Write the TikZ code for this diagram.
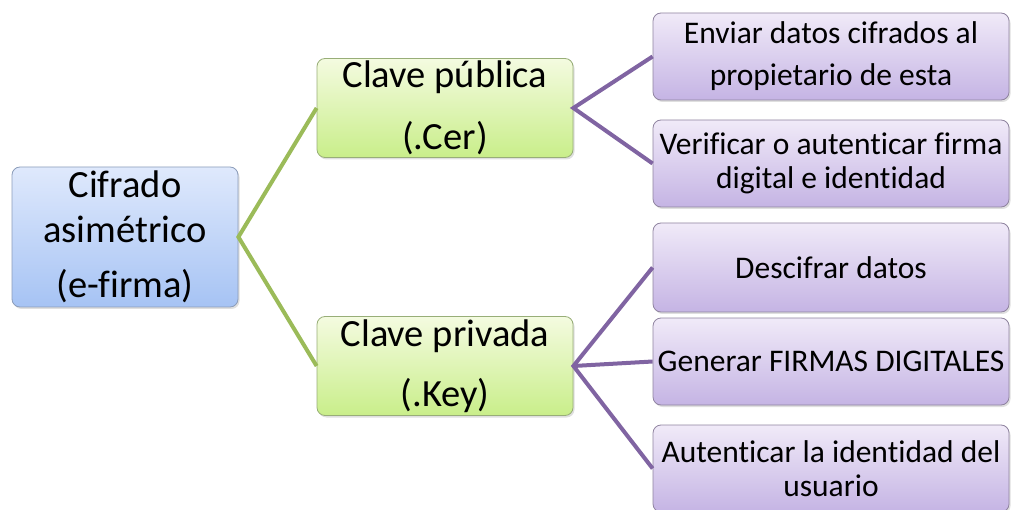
\documentclass[tikz,border=0pt]{standalone}
\usepackage{fontspec}
\setmainfont{Carlito}[RawFeature={-liga;-dlig;-clig}]
\usetikzlibrary{shadows}
\definecolor{rootTop}{HTML}{DFE9FC}
\definecolor{rootBot}{HTML}{A6C3F4}
\definecolor{rootDraw}{HTML}{8C9DBA}
\definecolor{grTop}{HTML}{F4FBE0}
\definecolor{grBot}{HTML}{C9EE8A}
\definecolor{grDraw}{HTML}{98AE78}
\definecolor{puTop}{HTML}{F0EAF8}
\definecolor{puBot}{HTML}{C5B4E4}
\definecolor{puDraw}{HTML}{8F839F}
\definecolor{grLine}{HTML}{9BBB59}
\definecolor{puLine}{HTML}{8064A2}
\begin{document}
\begin{tikzpicture}[x=1pt,y=-1pt,
  box/.style={rectangle, rounded corners=8pt, line width=0.8pt, inner sep=0pt, align=center,
    drop shadow={shadow xshift=1.5pt, shadow yshift=-2pt, opacity=0.25}},
  rootbox/.style={box, draw=rootDraw, top color=rootTop, bottom color=rootBot,
    minimum width=226pt, minimum height=140pt, font=\fontsize{38.5}{45}\selectfont},
  keybox/.style={box, draw=grDraw, top color=grTop, bottom color=grBot,
    minimum width=256pt, minimum height=99pt, font=\fontsize{38.5}{46}\selectfont},
  leafbox/.style={box, draw=puDraw, top color=puTop, bottom color=puBot,
    minimum width=356pt, minimum height=87pt, font=\fontsize{31.5}{34}\selectfont},
  grconn/.style={draw=grLine, line width=4pt},
  puconn/.style={draw=puLine, line width=4pt}]
\useasboundingbox (0,0) rectangle (1011,510);

\node[rootbox] (root) at (125,237) {Cifrado\\asimétrico\\[10pt](e-firma)};
\node[keybox] (pub) at (445,108) {Clave pública\\[16pt](.Cer)};
\node[keybox] (priv) at (445,366) {Clave privada\\[14pt](.Key)};

\node[leafbox] (l1) at (831,56.5) {Enviar datos cifrados al\\[8pt]propietario de esta};
\node[leafbox] (l2) at (831,163.5) {Verificar o autenticar firma\\digital e identidad};
\node[leafbox, minimum height=89pt] (l3) at (831,267.5) {Descifrar datos};
\node[leafbox] (l4) at (831,361.5) {Generar FIRMAS DIGITALES};
\node[leafbox] (l5) at (831,468.5) {Autenticar la identidad del\\usuario};

\draw[grconn] (pub.west) -- (root.east) -- (priv.west);
\draw[puconn] (l1.west) -- (pub.east) -- (l2.west);
\draw[puconn] (l3.west) -- (priv.east) -- (l5.west);
\draw[puconn] (priv.east) -- (l4.west);
\end{tikzpicture}
\end{document}
